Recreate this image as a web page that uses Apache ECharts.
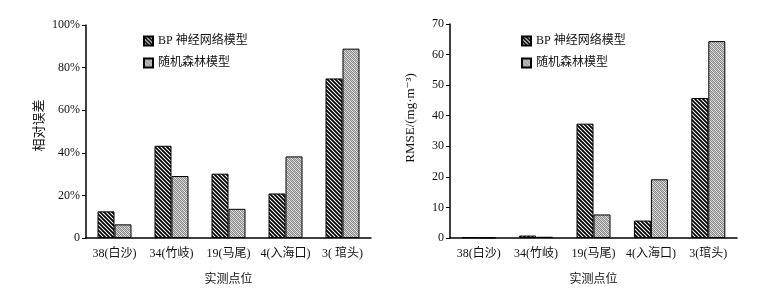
<!DOCTYPE html>
<html>
<head>
<meta charset="utf-8">
<script src="https://cdn.jsdelivr.net/npm/echarts@6/dist/echarts.min.js"></script>
<style>
  html, body { margin: 0; padding: 0; background: #fff; }
  #chart { width: 775px; height: 291px; }
</style>
</head>
<body>
<div id="chart"></div>
<script>
// --- data ---
const categoriesLeft = ['38(白沙)', '34(竹岐)', '19(马尾)', '4(入海口)', '3( 琯头)'];
const categoriesRight = ['38(白沙)', '34(竹岐)', '19(马尾)', '4(入海口)', '3(琯头)'];
const seriesNames = ['BP 神经网络模型', '随机森林模型'];
const relErrBP = [12.5, 43.3, 30.2, 20.9, 74.9];
const relErrRF = [6.4, 29.1, 13.7, 38.3, 88.9];
const rmseBP = [0.2, 0.8, 37.4, 5.7, 45.8];
const rmseRF = [0.1, 0.4, 7.7, 19.2, 64.4];

const FONT = '"Liberation Serif", "DejaVu Serif", "Noto Sans CJK SC", serif';

// 斜线填充 (BP)
function hatchPattern() {
  const c = document.createElement('canvas');
  c.width = 4; c.height = 4;
  const ctx = c.getContext('2d');
  ctx.fillStyle = '#fff';
  ctx.fillRect(0, 0, 4, 4);
  ctx.strokeStyle = '#000';
  ctx.lineWidth = 1.8;
  ctx.beginPath();
  ctx.moveTo(-1, -1); ctx.lineTo(5, 5);
  ctx.moveTo(-1, 3); ctx.lineTo(1, 5);
  ctx.moveTo(3, -1); ctx.lineTo(5, 1);
  ctx.stroke();
  return { image: c, repeat: 'repeat' };
}

// 细网点填充 (随机森林)
function dotPattern() {
  const c = document.createElement('canvas');
  c.width = 4; c.height = 4;
  const ctx = c.getContext('2d');
  ctx.fillStyle = '#e8e8e8';
  ctx.fillRect(0, 0, 4, 4);
  ctx.fillStyle = '#8a8a8a';
  for (let y = 0; y < 4; y++) {
    for (let x = 0; x < 4; x++) {
      if ((x + y) % 2 === 0) ctx.fillRect(x, y, 1, 1);
    }
  }
  ctx.fillStyle = '#c4c4c4';
  for (let i = 0; i < 4; i++) ctx.fillRect(i, (i + 1) % 4, 1, 1);
  return { image: c, repeat: 'repeat' };
}

const hatch = hatchPattern();
const dots = dotPattern();

const axisLine = { show: true, lineStyle: { color: '#000', width: 1.5 } };
const axisLabel = { color: '#111', fontSize: 12, fontFamily: FONT };
const nameStyle = { color: '#111', fontSize: 12, fontFamily: FONT };

function xAxis(idx, cats) {
  return {
    type: 'category', gridIndex: idx, data: cats,
    axisLine: axisLine, axisTick: { show: false },
    axisLabel: Object.assign({ margin: 10, interval: 0 }, axisLabel),
    name: '实测点位', nameLocation: 'middle', nameGap: 36, nameTextStyle: nameStyle
  };
}

function bar(name, data, idx, fill) {
  return {
    name: name, type: 'bar', xAxisIndex: idx, yAxisIndex: idx,
    data: data, barWidth: 17, barGap: '0%',
    itemStyle: { color: fill, borderColor: '#000', borderWidth: 1 }
  };
}

function legend(idx, left) {
  return {
    data: seriesNames, orient: 'vertical', left: left, top: 30,
    icon: 'rect', itemWidth: 9, itemHeight: 9, itemGap: 10,
    textStyle: { color: '#111', fontSize: 12, fontFamily: FONT },
    selectedMode: false
  };
}

const chart = echarts.init(document.getElementById('chart'), null, { renderer: 'canvas' });

chart.setOption({
  backgroundColor: '#fff',
  animation: false,
  legend: [legend(0, 138), legend(1, 516)],
  grid: [
    { left: 86, top: 25, width: 285, height: 214 },
    { left: 450, top: 24, width: 287, height: 215 }
  ],
  xAxis: [xAxis(0, categoriesLeft), xAxis(1, categoriesRight)],
  yAxis: [
    {
      type: 'value', gridIndex: 0, min: 0, max: 100, interval: 20,
      axisLine: axisLine,
      axisTick: { show: true, length: 4, lineStyle: { color: '#000' } },
      splitLine: { show: false },
      axisLabel: Object.assign({ margin: 6, formatter: v => v === 0 ? '0' : v + '%' }, axisLabel),
      name: '相对误差', nameLocation: 'middle', nameGap: 40,
      nameTextStyle: Object.assign({ fontSize: 13, padding: [0, 0, 0, 12] }, { color: '#111', fontFamily: FONT })
    },
    {
      type: 'value', gridIndex: 1, min: 0, max: 70, interval: 10,
      axisLine: axisLine,
      axisTick: { show: true, length: 4, lineStyle: { color: '#000' } },
      splitLine: { show: false },
      axisLabel: Object.assign({ margin: 6 }, axisLabel),
      name: 'RMSE/(mg·m⁻³)', nameLocation: 'middle', nameGap: 33,
      nameTextStyle: Object.assign({ fontSize: 13, padding: [0, 0, 0, 26] }, { color: '#111', fontFamily: FONT })
    }
  ],
  series: [
    bar(seriesNames[0], relErrBP, 0, hatch),
    bar(seriesNames[1], relErrRF, 0, dots),
    bar(seriesNames[0], rmseBP, 1, hatch),
    bar(seriesNames[1], rmseRF, 1, dots)
  ]
});
</script>
</body>
</html>
